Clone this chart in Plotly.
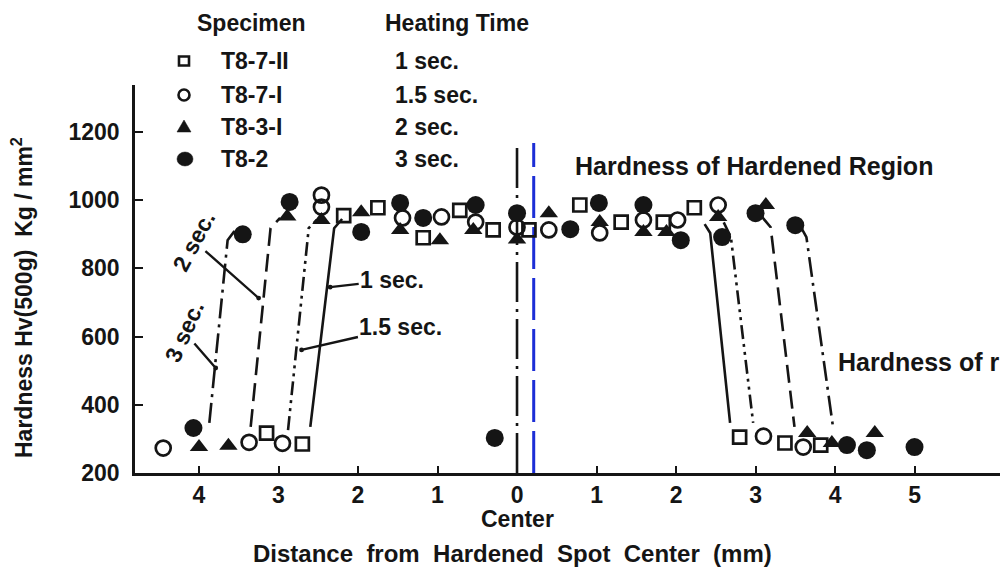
import plotly.graph_objects as go

# ---------------- data ----------------
# x: distance from hardened spot centre (mm), left side negative; y: Hv hardness
sq_x = [-3.15, -2.70, -2.18, -1.75, -1.18, -0.72, -0.30, 0.15, 0.79, 1.31, 1.84, 2.23, 2.80, 3.37, 3.82]
sq_y = [317, 285, 955, 978, 890, 970, 913, 913, 986, 936, 936, 978, 305, 288, 282]

oc_x = [-4.45, -3.37, -2.95, -2.46, -2.46, -1.44, -0.95, -0.52, 0.00, 0.40, 1.04, 1.59, 2.02, 2.53, 3.10, 3.60]
oc_y = [273, 290, 287, 1015, 980, 948, 951, 936, 921, 913, 904, 942, 942, 986, 308, 276]

tri_x = [-4.00, -3.63, -2.89, -2.46, -1.96, -1.47, -0.97, -0.55, 0.00, 0.40, 1.04, 1.59, 1.88, 2.53, 3.13, 3.65, 3.96, 4.50]
tri_y = [276, 280, 952, 942, 965, 913, 883, 913, 885, 962, 936, 907, 907, 951, 986, 317, 288, 317]

fc_x = [-4.07, -3.45, -2.86, -1.96, -1.47, -1.18, -0.52, -0.28, 0.00, 0.67, 1.03, 1.59, 2.06, 2.58, 3.00, 3.50, 4.15, 4.40, 5.00]
fc_y = [332, 900, 995, 907, 992, 948, 986, 303, 962, 915, 992, 986, 883, 892, 962, 927, 282, 267, 276]

# transition (boundary) curves, left branch / right branch separated by None
t1_x = [-2.60, -2.30, -2.20, None, 2.36, 2.43, 2.68]
t1_y = [335, 918, 945, None, 930, 904, 347]
t15_x = [-2.88, -2.62, -2.52, None, 2.60, 2.69, 2.97]
t15_y = [326, 918, 942, None, 935, 892, 347]
t2_x = [-3.35, -3.10, -2.98, None, 3.05, 3.19, 3.49]
t2_y = [335, 918, 948, None, 960, 921, 335]
t3_x = [-3.87, -3.64, -3.52, None, 3.55, 3.64, 3.98]
t3_y = [347, 883, 920, None, 930, 892, 326]

center_x = 0.0
marked_x = 0.21
center_top = 1168

specimens = ["T8-7-II", "T8-7-I", "T8-3-I", "T8-2"]
times = ["1 sec.", "1.5 sec.", "2 sec.", "3 sec."]

x_ticks = [-4, -3, -2, -1, 0, 1, 2, 3, 4, 5]
x_ticktext = ["4", "3", "2", "1", "0", "1", "2", "3", "4", "5"]
y_ticks = [200, 400, 600, 800, 1000, 1200]

# ---------------- style / layout geometry ----------------
INK = "#151515"
FONT = "Liberation Sans"
W = "bold"
LW = 2.6
ML, MR, MT, MB = 135, 5, 85, 96
FW, FH = 1005, 569
PW, PH = FW - ML - MR, FH - MT - MB

def px(x):  # page pixel column -> paper x
    return (x - ML) / PW

def py(y):  # page pixel row -> paper y
    return (FH - MB - y) / PH

fig = go.Figure()

def curve(x, y, dash):
    fig.add_trace(go.Scatter(x=x, y=y, mode="lines", line=dict(color=INK, width=LW, dash=dash),
                             showlegend=False, hoverinfo="skip", connectgaps=False))

curve(t1_x, t1_y, "solid")
curve(t15_x, t15_y, "14px,5px,3px,5px,3px,5px")
curve(t2_x, t2_y, "18px,8px")
curve(t3_x, t3_y, "20px,6px,3px,6px")

# centre line and hand-drawn blue mark
fig.add_trace(go.Scatter(x=[center_x, center_x], y=[200, center_top], mode="lines",
                         line=dict(color=INK, width=2.6, dash="40px,7px,3px,7px"),
                         showlegend=False, hoverinfo="skip"))
fig.add_trace(go.Scatter(x=[marked_x, marked_x], y=[200, center_top], mode="lines",
                         line=dict(color="#1c2ed6", width=3, dash="42px,9px"),
                         showlegend=False, hoverinfo="skip"))

# data markers
fig.add_trace(go.Scatter(x=sq_x, y=sq_y, mode="markers", cliponaxis=False, showlegend=False,
                         marker=dict(symbol="square-open", size=13, color=INK, line=dict(width=2.7, color=INK))))
fig.add_trace(go.Scatter(x=oc_x, y=oc_y, mode="markers", cliponaxis=False, showlegend=False,
                         marker=dict(symbol="circle-open", size=15, color=INK, line=dict(width=2.7, color=INK))))
fig.add_trace(go.Scatter(x=tri_x, y=tri_y, mode="markers", cliponaxis=False, showlegend=False,
                         marker=dict(symbol="triangle-up", size=16, color=INK, line=dict(width=0))))
fig.add_trace(go.Scatter(x=fc_x, y=fc_y, mode="markers", cliponaxis=False, showlegend=False,
                         marker=dict(symbol="circle", size=18, color=INK, line=dict(width=0))))

# ---------------- custom legend ----------------
leg_row = [61, 95, 127, 159]
leg_col = 184
shapes = []
def sym_shape(kind, xc, yc, **kw):
    base = dict(xref="paper", yref="paper", xsizemode="pixel", ysizemode="pixel",
                xanchor=px(xc), yanchor=py(yc), layer="above")
    base.update(kw)
    base["type"] = kind
    shapes.append(base)

sym_shape("rect", leg_col, leg_row[0], x0=-5, x1=5, y0=-4.5, y1=4.5,
          line=dict(color=INK, width=2.6), fillcolor="rgba(0,0,0,0)")
sym_shape("circle", leg_col, leg_row[1], x0=-5.5, x1=5.5, y0=-5.5, y1=5.5,
          line=dict(color=INK, width=2.6), fillcolor="rgba(0,0,0,0)")
sym_shape("path", leg_col, leg_row[2], path="M -7,-5 L 7,-5 L 0,7 Z",
          line=dict(color=INK, width=0.5), fillcolor=INK)
sym_shape("circle", leg_col + 1, leg_row[3], x0=-8, x1=8, y0=-7, y1=7,
          line=dict(color=INK, width=0.5), fillcolor=INK)

ann = []
def txt(x, y, s, size=23, xanchor="center"):
    ann.append(dict(x=px(x), y=py(y), xref="paper", yref="paper", text=s, showarrow=False,
                    xanchor=xanchor, yanchor="middle",
                    font=dict(family=FONT, size=size, color=INK, weight=W)))

txt(251, 23, "Specimen")
txt(457, 23, "Heating Time")
for name, t, yy in zip(specimens, times, leg_row):
    txt(219, yy, name, xanchor="left")
    txt(393, yy, t, xanchor="left")

txt(573, 166, "Hardness of Hardened Region", size=25, xanchor="left")
txt(836, 362, "Hardness of r", size=25, xanchor="left")

# leader labels (text centre at tail, arrow head on the boundary curve)
def leader(tx, ty, hx, hy, s, angle=0):
    ann.append(dict(x=hx, y=hy, xref="x", yref="y", ax=tx, ay=ty, axref="x", ayref="y",
                    text=s, showarrow=True, arrowhead=6, arrowsize=0.5, arrowwidth=2.4,
                    arrowcolor=INK, textangle=angle,
                    font=dict(family=FONT, size=23, color=INK, weight=W)))

leader(-1.57, 766, -2.35, 745, "1 sec.")
leader(-1.46, 628, -2.71, 561, "1.5 sec.")
leader(-4.06, 880, -3.25, 713, "2 sec.", angle=-62)
leader(-4.19, 615, -3.79, 508, "3 sec.", angle=-66)

# axis titles and "Center"
ann.append(dict(x=0, y=py(519), xref="x", yref="paper", yanchor="middle", text="Center",
                showarrow=False, font=dict(family=FONT, size=23, color=INK, weight=W)))
txt(512, 553, "Distance  from  Hardened  Spot  Center  (mm)", size=24)
ann.append(dict(x=px(22), y=py(298), xref="paper", yref="paper", xanchor="center",
                yanchor="middle", textangle=-90,
                text="Hardness Hv(500g)  Kg / mm<sup>2</sup>", showarrow=False,
                font=dict(family=FONT, size=23, color=INK, weight=W)))

fig.update_layout(
    width=FW, height=FH,
    margin=dict(l=ML, r=MR, t=MT, b=MB),
    paper_bgcolor="white", plot_bgcolor="white",
    showlegend=False,
    annotations=ann,
    shapes=shapes,
    xaxis=dict(range=[-4.805, 6.075], tickvals=x_ticks, ticktext=x_ticktext,
               ticks="inside", ticklen=7, tickwidth=2, tickcolor=INK,
               showline=True, linewidth=2.6, linecolor=INK, showgrid=False, zeroline=False,
               ticklabelstandoff=0,
               tickfont=dict(family=FONT, size=23, color=INK, weight=W)),
    yaxis=dict(range=[200, 1338], tickvals=y_ticks, ticks="inside", ticklen=8, tickwidth=2,
               tickcolor=INK, showline=True, linewidth=2.6, linecolor=INK, showgrid=False,
               zeroline=False, ticklabelstandoff=8,
               tickfont=dict(family=FONT, size=23, color=INK, weight=W)),
)

fig.write_html("out.html")
